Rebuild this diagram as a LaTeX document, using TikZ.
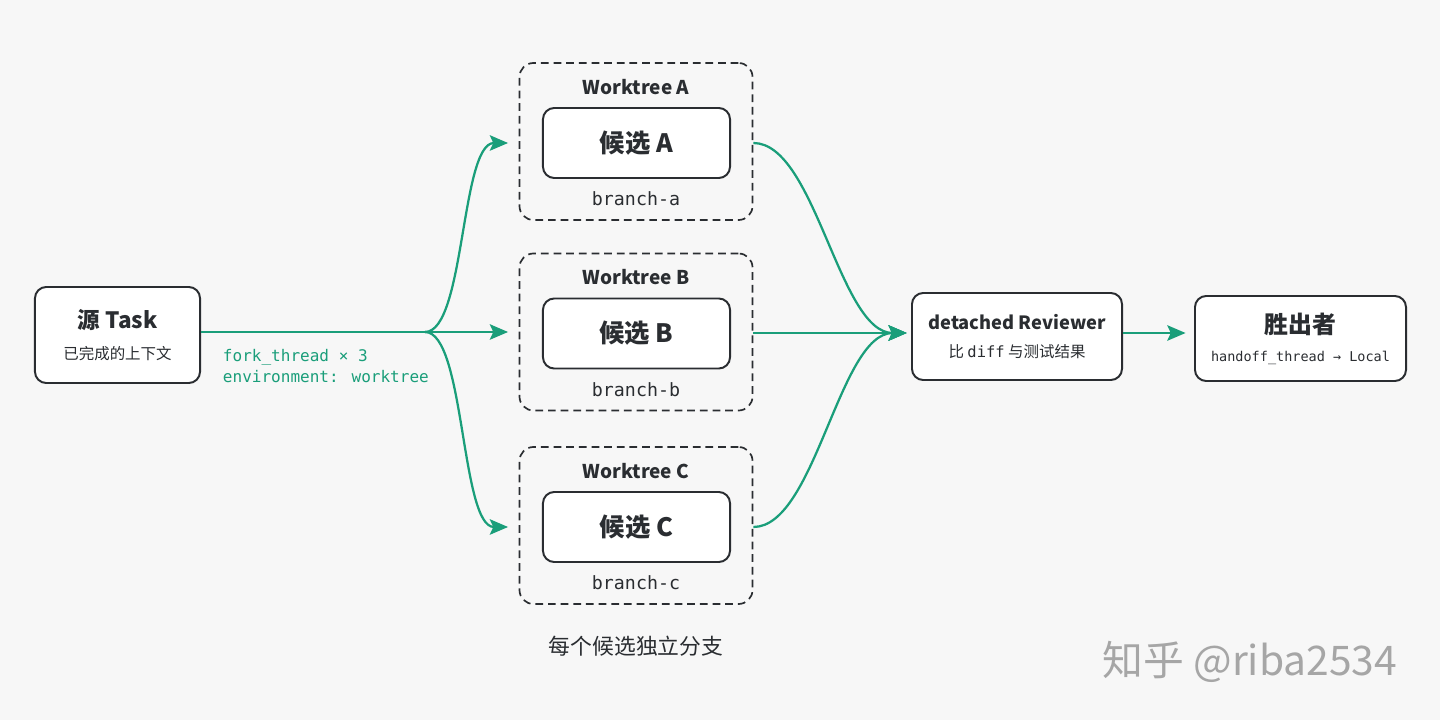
\documentclass[tikz,border=0pt]{standalone}
\usepackage{fontspec}
\setmainfont{Noto Sans CJK SC}
\newfontfamily\codefont{DejaVu Sans Mono}
\usetikzlibrary{positioning,arrows.meta}
\definecolor{FkGreen}{HTML}{1A9E7A}
\definecolor{FkInk}{HTML}{2A2D31}
\definecolor{FkBg}{HTML}{F7F7F7}

\begin{document}
\begin{tikzpicture}[
  x=0.025cm, y=-0.025cm,
  card/.style={draw=FkInk, line width=1.4pt, fill=white, rounded corners=8pt, align=center, text=FkInk},
  wtbox/.style={draw=FkInk, line width=1.2pt, dash pattern=on 5.5pt off 3.5pt, rounded corners=10pt, minimum width=5.825cm, minimum height=3.925cm},
  candbox/.style={card, minimum width=4.675cm, minimum height=1.75cm, font=\fontsize{18}{18}\selectfont\bfseries},
  wttitle/.style={text=FkInk, font=\fontsize{13.5}{13.5}\selectfont\bfseries},
  branchlbl/.style={text=FkInk, font=\codefont\fontsize{13}{13}\selectfont},
  flow/.style={draw=FkGreen, line width=1.6pt, -{Stealth[length=13pt, width=11pt, inset=2.5pt]}},
  feed/.style={draw=FkGreen, line width=1.6pt}
]
\fill[FkBg] (0,0) rectangle (1440,720);

% source
\node[card, minimum width=4.125cm, minimum height=2.4cm] (src) at (117.5,335)
  {{\fontsize{16}{16}\selectfont\bfseries 源 Task}\\[10pt]{\fontsize{11}{11}\selectfont 已完成的上下文}};
\coordinate (fork) at (425,332);
\draw[feed] (src.east |- fork) -- (fork);
\node[anchor=north west, align=left, text=FkGreen, font=\codefont\fontsize{11.4}{15.5}\selectfont] (forklbl) at (218,344)
  {fork\_thread × 3\\environment: worktree};

% worktrees
\foreach \k/\y/\s in {A/141.5/a, B/332/b, C/525.5/c}{
  \node[wtbox] (wt\k) at (636,\y) {};
  \node[wttitle] (wtt\k) at (636,\y-54.5) {Worktree \k};
  \node[candbox] (cand\k) at (636.5,\y+1.5) {候选 \k};
  \node[branchlbl] (br\k) at (636,\y+57.5) {branch-\s};
}

% reviewer and winner
\coordinate (merge) at (905,333);
\node[card, minimum width=5.25cm, minimum height=2.175cm] (rev) at (1017,336.5)
  {{\fontsize{13}{13}\selectfont\bfseries detached Reviewer}\\[8pt]{\fontsize{11}{11}\selectfont 比 {\codefont diff} 与测试结果}};
\node[card, minimum width=5.275cm, minimum height=2.125cm] (win) at (1300.5,338.5)
  {{\fontsize{17}{17}\selectfont\bfseries 胜出者}\\[8pt]{\codefont\fontsize{9.6}{9.6}\selectfont handoff\_thread → Local}};

% fan out
\draw[flow, shorten >=7.5pt] (fork) .. controls +(40,0) and +(-58,0) .. (candA.west -| wtA.west);
\draw[flow, shorten >=7.5pt] (fork) -- (fork -| wtB.west);
\draw[flow, shorten >=7.5pt] (fork) .. controls +(40,0) and +(-58,0) .. (candC.west -| wtC.west);

% fan in
\draw[flow, shorten >=3pt] (candA.east -| wtA.east) .. controls +(62,0) and +(-72,0) .. (rev.west |- merge);
\draw[flow, shorten >=3pt] (wtB.east |- merge) -- (rev.west |- merge);
\draw[flow, shorten >=3pt] (candC.east -| wtC.east) .. controls +(62,0) and +(-72,0) .. (rev.west |- merge);
\draw[flow, shorten >=6pt] (rev.east |- merge) -- (win.west |- merge);

\node[text=FkInk, font=\fontsize{15.5}{15.5}\selectfont] (caption) at (636,646) {每个候选独立分支};
\node[text=black!35, font=\fontsize{29}{29}\selectfont] (mark) at (1250,662) {知乎 @riba2534};
\end{tikzpicture}
\end{document}
